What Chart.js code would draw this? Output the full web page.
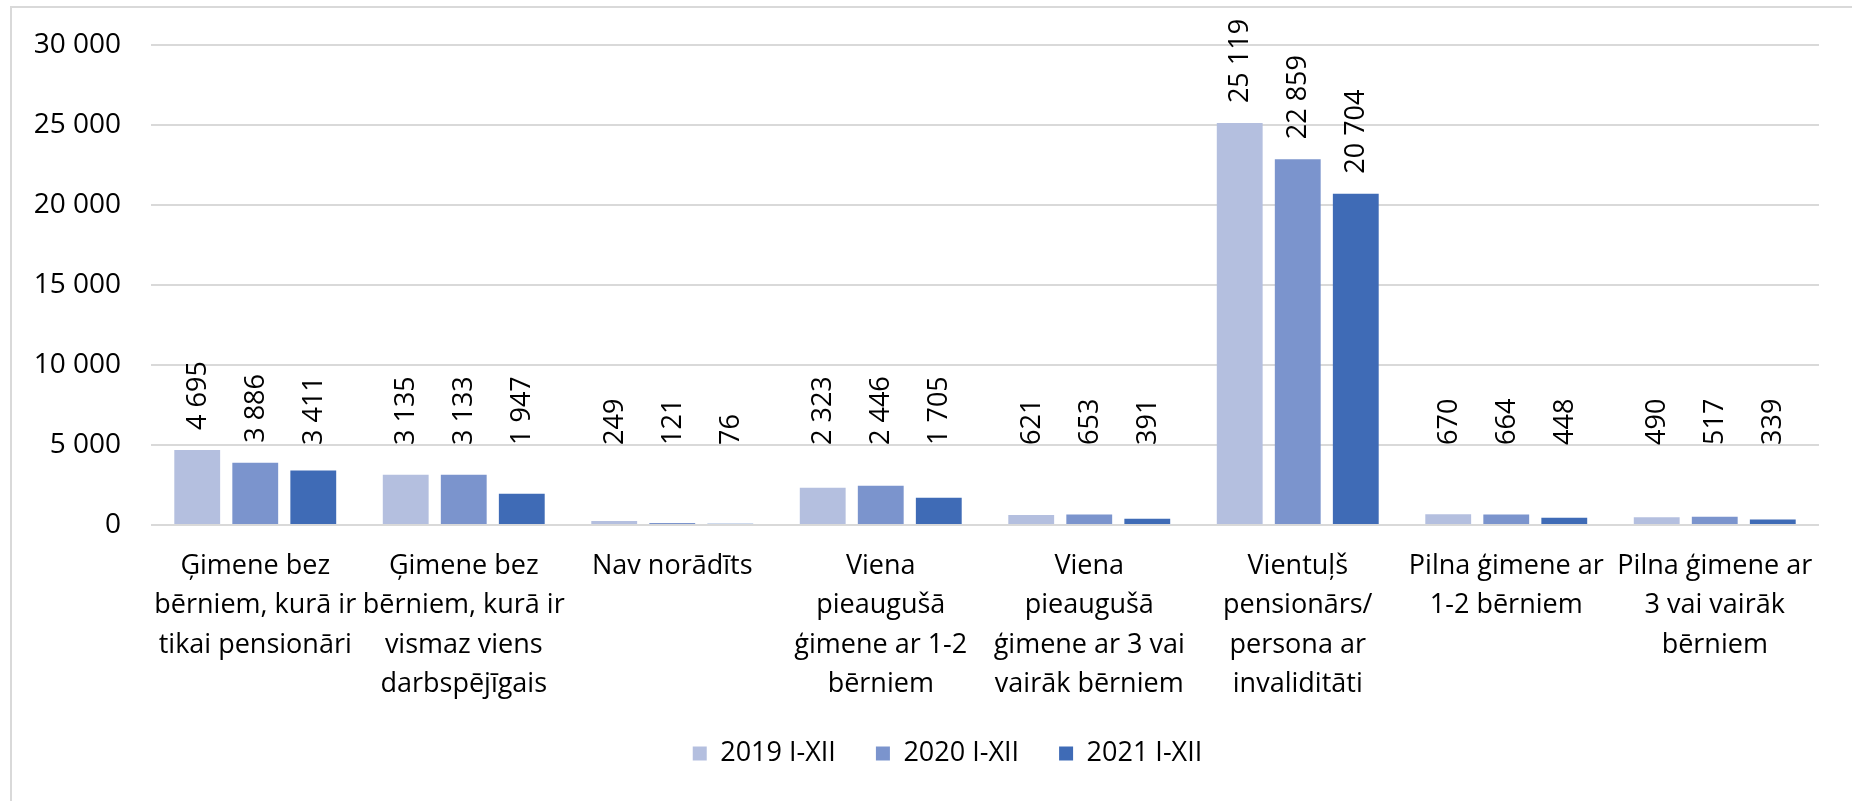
<!DOCTYPE html>
<html lang="lv">
<head>
<meta charset="utf-8">
<title>Mājsaimniecību tipi</title>
<script src="https://cdn.jsdelivr.net/npm/chart.js@4/dist/chart.umd.min.js"></script>
<style>
  html, body { margin: 0; padding: 0; background: #fff; overflow: hidden; }
  .frame {
    position: absolute; left: 10px; top: 6px;
    width: 1870px; height: 900px;
    border: 2px solid #d9d9d9;
  }
  .frame canvas { display: block; }
</style>
</head>
<body>
<div class="frame">
  <canvas id="chartTipi" width="1870" height="796"></canvas>
</div>
<script>
const kategorijas = [
  ["Ģimene bez", "bērniem, kurā ir", "tikai pensionāri"],
  ["Ģimene bez", "bērniem, kurā ir", "vismaz viens", "darbspējīgais"],
  ["Nav norādīts"],
  ["Viena", "pieaugušā", "ģimene ar 1-2", "bērniem"],
  ["Viena", "pieaugušā", "ģimene ar 3 vai", "vairāk bērniem"],
  ["Vientuļš", "pensionārs/", "persona ar", "invaliditāti"],
  ["Pilna ģimene ar", "1-2 bērniem"],
  ["Pilna ģimene ar", "3 vai vairāk", "bērniem"],
];
const serijas = ["2019 I-XII", "2020 I-XII", "2021 I-XII"];
const vertibas2019 = [4695, 3135, 249, 2323, 621, 25119, 670, 490];
const vertibas2020 = [3886, 3133, 121, 2446, 653, 22859, 664, 517];
const vertibas2021 = [3411, 1947, 76, 1705, 391, 20704, 448, 339];
const asisMax = 30000;
const asisSolis = 5000;

const krasas = ["#b4bfdf", "#7b94cd", "#3f6bb6"];
const FONT = "'Open Sans', 'Noto Sans', sans-serif";

function fmt(v) {
  return String(v).replace(/\B(?=(\d{3})+(?!\d))/g, " ");
}

// vertikālie vērtību uzraksti virs stabiņiem
const vertibuUzraksti = {
  id: "vertibuUzraksti",
  afterDatasetsDraw(chart) {
    const ctx = chart.ctx;
    const base = chart.scales.y.getPixelForValue(0);
    ctx.save();
    ctx.fillStyle = "#000";
    ctx.font = "27px " + FONT;
    ctx.textAlign = "left";
    ctx.textBaseline = "middle";
    chart.data.datasets.forEach((ds, di) => {
      chart.getDatasetMeta(di).data.forEach((bar, i) => {
        const y = Math.min(bar.y - 20, base - 80);
        ctx.save();
        ctx.translate(bar.x, y);
        ctx.rotate(-Math.PI / 2);
        ctx.fillText(fmt(ds.data[i]), 0, 1);
        ctx.restore();
      });
    });
    ctx.restore();
  },
};

// leģenda nedaudz pa labi, kā oriģinālā (rāmis turpinās aiz attēla malas)
const legendaNobide = {
  id: "legendaNobide",
  afterUpdate(chart) {
    const l = chart.legend;
    if (!l) return;
    l.left += 32;
    l.right += 32;
  },
};

const dati = [vertibas2019, vertibas2020, vertibas2021];

new Chart(document.getElementById("chartTipi"), {
  type: "bar",
  data: {
    labels: kategorijas,
    datasets: serijas.map((s, i) => ({
      label: s,
      data: dati[i],
      backgroundColor: krasas[i],
      categoryPercentage: 0.835,
      barPercentage: 0.79,
    })),
  },
  options: {
    responsive: false,
    animation: false,
    layout: { padding: { left: 0, right: 63, top: 37, bottom: 27 } },
    plugins: {
      legend: {
        position: "bottom",
        labels: {
          color: "#000",
          font: { family: FONT, size: 27 },
          boxWidth: 14,
          boxHeight: 14,
          padding: 40,
        },
      },
      tooltip: { enabled: false },
    },
    scales: {
      x: {
        grid: { display: false, drawTicks: false },
        border: { display: false },
        ticks: {
          color: "#000",
          autoSkip: false,
          maxRotation: 0,
          minRotation: 0,
          padding: 22,
          font: { family: FONT, size: 27, lineHeight: 1.45 },
        },
        afterFit: (s) => { s.height = 175; },
      },
      y: {
        min: 0,
        max: asisMax,
        grid: { color: "#d9d9d9", lineWidth: 2, drawTicks: false },
        border: { display: false },
        ticks: {
          stepSize: asisSolis,
          color: "#000",
          padding: 30,
          font: { family: FONT, size: 28 },
          callback: (v) => fmt(v),
        },
        afterFit: (s) => {
          s.width = 139;
          s.paddingTop = 0;
        },
      },
    },
  },
  plugins: [vertibuUzraksti, legendaNobide],
});
</script>
</body>
</html>
